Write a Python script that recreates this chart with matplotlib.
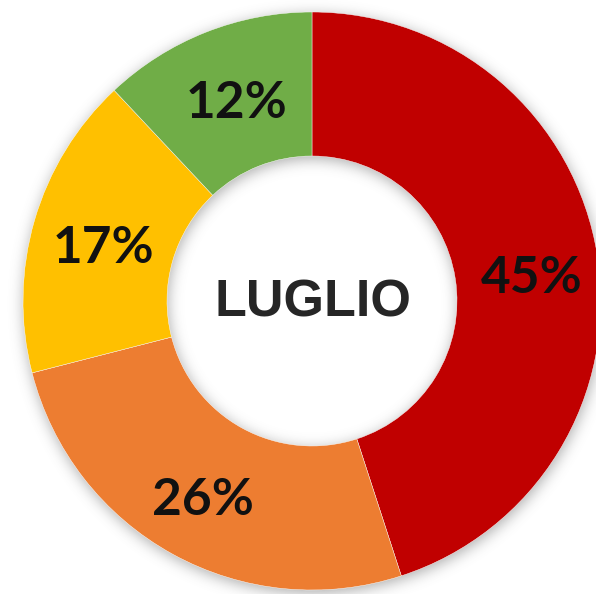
import matplotlib.pyplot as plt
import numpy as np

labels = ["Rosso", "Arancione", "Giallo", "Verde"]
values = [45, 26, 17, 12]
colors = ["#C00000", "#ED7D31", "#FFC000", "#70AD47"]
title = "LUGLIO"

W, H = 596, 594
cx, cy = 312, H - 301
r_out, r_in = 289, 145

fig = plt.figure(figsize=(W / 100, H / 100), dpi=100)
ax = fig.add_axes([0, 0, 1, 1])
ax.set_xlim(0, W)
ax.set_ylim(0, H)
ax.axis("off")

# soft shadow behind the ring
yy, xx = np.mgrid[0:H, 0:W]
xx = xx + 0.5
yy = H - (yy + 0.5)
d = np.hypot(xx - (cx + 1), yy - (cy - 3))
mask = ((d <= r_out) & (d >= r_in)).astype(float)
sig = 7
k = np.arange(-3 * sig, 3 * sig + 1)
g = np.exp(-k**2 / (2 * sig**2))
g /= g.sum()
blur = np.apply_along_axis(lambda m: np.convolve(m, g, mode="same"), 1, mask)
blur = np.apply_along_axis(lambda m: np.convolve(m, g, mode="same"), 0, blur)
shadow = np.zeros((H, W, 4))
shadow[..., :3] = 0.35
shadow[..., 3] = blur * 0.5
ax.imshow(shadow, extent=(0, W, 0, H), origin="upper", zorder=0)

wedges, texts, autotexts = ax.pie(
    values, colors=colors, startangle=90, counterclock=False,
    radius=r_out, center=(cx, cy), autopct="%d%%", pctdistance=0.755,
    wedgeprops=dict(width=r_out - r_in, edgecolor="white", linewidth=0.3),
    textprops=dict(fontsize=37, fontweight="bold", family="Lato", color="#111111"),
)
for w in wedges:
    w.set_zorder(2)
for t in autotexts:
    t.set_zorder(3)
# nudge labels like the original
offsets = [(4, -12), (-4, -8), (1, -8), (5, -5)]
for t, (dx, dy) in zip(autotexts, offsets):
    x, y = t.get_position()
    t.set_position((x + dx, y + dy))

ax.text(cx + 1, cy - 2, title, ha="center", va="center", fontsize=37.5, fontweight="bold",
        family="Liberation Sans", color="#262626", zorder=3)
ax.set_xlim(0, W)
ax.set_ylim(0, H)
ax.set_aspect("auto")

fig.savefig("out.png", dpi=100)
